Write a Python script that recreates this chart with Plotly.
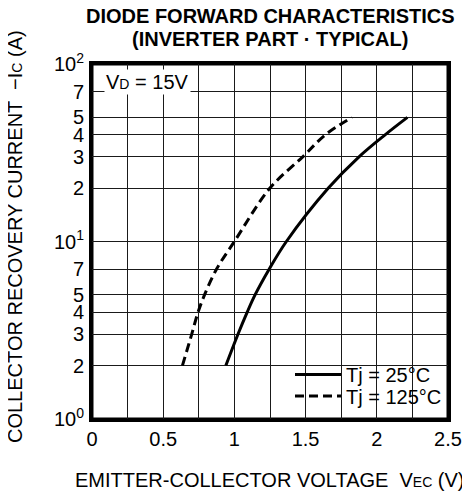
import plotly.graph_objects as go

# Data
current_a = [2, 3, 4, 5, 7, 10, 20, 30, 40, 50]
vec_25c = [0.94, 1.025, 1.09, 1.145, 1.245, 1.365, 1.66, 1.875, 2.06, 2.215]
vec_125c = [0.635, 0.70, 0.745, 0.79, 0.875, 1.0, 1.25, 1.48, 1.64, 1.825]

x_ticks = [0, 0.25, 0.5, 0.75, 1, 1.25, 1.5, 1.75, 2, 2.25, 2.5]
x_tick_labels = ["0", " ", "0.5", " ", "1", " ", "1.5", " ", "2", " ", "2.5"]
y_ticks = [1, 2, 3, 4, 5, 7, 10, 20, 30, 40, 50, 70, 100]
y_tick_labels = ["10<sup>0</sup>", "2", "3", "4", "5", "7", "10<sup>1</sup>",
                 "2", "3", "4", "5", "7", "10<sup>2</sup>"]

FONT = "Liberation Sans"
FS = 20
SM = "<span style='font-size:14px'>{}</span>"

# Page body has an 8px margin: figure is drawn at (8, 8) in the window
W, H = 462, 488
L, R, T, B = 84, 22, 56, 77
PW, PH = W - L - R, H - T - B


def px(xf):
    return (xf - L) / PW


def py(yf):
    return (T + PH - yf) / PH


fig = go.Figure()
fig.add_trace(go.Scatter(x=vec_25c, y=current_a, mode="lines",
                         line=dict(color="black", width=3, shape="spline"),
                         name="Tj = 25°C", legend="legend"))
fig.add_trace(go.Scatter(x=vec_125c, y=current_a, mode="lines",
                         line=dict(color="black", width=3, dash="9px,5px", shape="spline"),
                         name="Tj = 125°C", legend="legend2"))

leg_common = dict(xanchor="left", yanchor="middle", bgcolor="rgba(0,0,0,0)", borderwidth=0,
                  font=dict(family=FONT, size=FS, color="black"), itemwidth=46)

fig.update_layout(
    template="none",
    autosize=False,
    width=W, height=H,
    margin=dict(l=L, r=R, t=T, b=B, pad=0, autoexpand=False),
    paper_bgcolor="white", plot_bgcolor="white",
    font=dict(family=FONT, size=FS, color="black"),
    showlegend=True,
    legend=dict(x=px(282), y=py(366.5), **leg_common),
    legend2=dict(x=px(282), y=py(388), **leg_common),
)
fig.update_xaxes(range=[0, 2.5], tickmode="array", tickvals=x_ticks, ticktext=x_tick_labels,
                 showgrid=True, gridcolor="#1a1a1a", gridwidth=1.3,
                 showline=True, linecolor="black", linewidth=3, mirror=True, layer="below traces",
                 ticks="", zeroline=False, automargin=False)
fig.update_yaxes(type="log", range=[0, 2], tickmode="array", tickvals=y_ticks, ticktext=y_tick_labels,
                 showgrid=True, gridcolor="#1a1a1a", gridwidth=1.3,
                 showline=True, linecolor="black", linewidth=3, mirror=True, layer="below traces",
                 ticks="", zeroline=False, automargin=False, ticklabelstandoff=1)

# white backing behind the legend entries (covers the grid, below the traces)
fig.add_shape(type="rect", xref="paper", yref="paper",
              x0=px(284), x1=px(435), y0=py(400), y1=py(350),
              line=dict(width=0), fillcolor="white", layer="between")
# plot frame
fig.add_shape(type="rect", xref="paper", yref="paper", x0=0, x1=1, y0=0, y1=1,
              line=dict(color="black", width=3), layer="between")

# title lines
fig.add_annotation(xref="paper", yref="paper", x=0.5, y=py(8.5), xanchor="center", yanchor="middle",
                   text="<b>DIODE FORWARD CHARACTERISTICS</b>", showarrow=False,
                   font=dict(family=FONT, size=FS, color="black"))
fig.add_annotation(xref="paper", yref="paper", x=0.5, y=py(31), xanchor="center", yanchor="middle",
                   text="<b>(INVERTER PART · TYPICAL)</b>", showarrow=False,
                   font=dict(family=FONT, size=FS, color="black"))

# axis titles
fig.add_annotation(xref="paper", yref="paper", x=0.5, y=py(472), xanchor="center", yanchor="middle",
                   text="EMITTER-COLLECTOR VOLTAGE  V" + SM.format("EC") + " (V)", showarrow=False,
                   font=dict(family=FONT, size=FS, color="black"))
fig.add_annotation(xref="paper", yref="paper", x=px(7), y=py(229), xanchor="center", yanchor="middle",
                   textangle=-90,
                   text="COLLECTOR RECOVERY CURRENT  \u2212I" + SM.format("C") + " (A)", showarrow=False,
                   font=dict(family=FONT, size=FS, color="black"))

# condition label
fig.add_annotation(xref="paper", yref="paper", x=px(139), y=py(74), xanchor="center", yanchor="middle",
                   text="V" + SM.format("D") + " = 15V", showarrow=False,
                   bgcolor="white", borderpad=1, font=dict(family=FONT, size=FS, color="black"))

fig.write_html("out.html")
